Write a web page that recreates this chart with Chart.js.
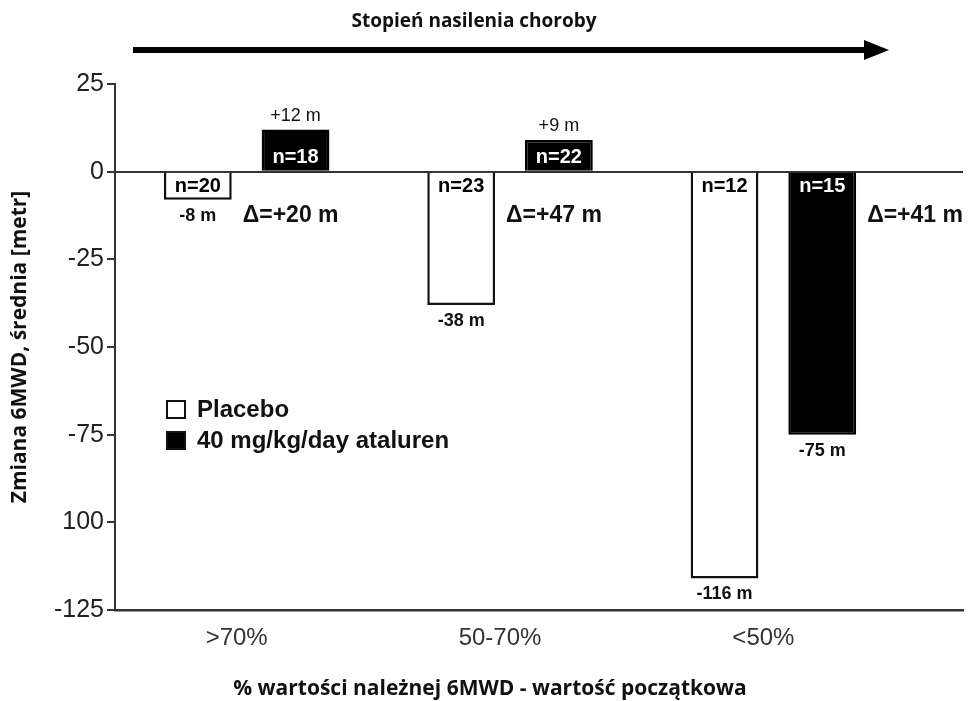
<!DOCTYPE html>
<html lang="pl">
<head>
<meta charset="utf-8">
<title>Zmiana 6MWD</title>
<script src="https://cdn.jsdelivr.net/npm/chart.js@4.4.1/dist/chart.umd.min.js"></script>
<style>
	html, body { margin: 0; padding: 0; background: #fff; }
</style>
</head>
<body>
<canvas id="myChart" width="970" height="701"></canvas>
<script>
// dane
const categories = ['>70%', '50-70%', '<50%'];
const placebo = [-8, -38, -116];
const ataluren = [12, 9, -75];
const placeboN = [20, 23, 12];
const atalurenN = [18, 22, 15];
const deltas = [20, 47, 41];
const yTickValues = [25, 0, -25, -50, -75, -100, -125];
const yTickLabels = ['25', '0', '-25', '-50', '-75', '100', '-125'];

const seriesNames = ['Placebo', '40 mg/kg/day ataluren'];
const topLabel = 'Stopień nasilenia choroby';
const xTitle = '% wartości należnej 6MWD - wartość początkowa';
const yTitle = 'Zmiana 6MWD, średnia [metr]';

(function () {

	const ctx = document.getElementById('myChart');
	const ARIAL = '"Liberation Sans", Arial, sans-serif';
	const CALIBRI = '"Open Sans", "Noto Sans", sans-serif';

	// etykiety n=, wartosci i delty
	const annotations = {
		id: 'annotations',
		afterDatasetsDraw(chart) {
			const c = chart.ctx;
			const y0 = chart.scales.y.getPixelForValue(0);
			c.save();
			c.textAlign = 'center';
			c.textBaseline = 'middle';
			[placeboN, atalurenN].forEach((counts, d) => {
				const meta = chart.getDatasetMeta(d);
				const values = chart.data.datasets[d].data;
				meta.data.forEach((bar, i) => {
					const v = values[i].y;
					c.fillStyle = d === 0 ? '#000' : '#fff';
					c.font = 'bold 20px ' + ARIAL;
					c.fillText('n=' + counts[i], bar.x, v < 0 ? y0 + 15 : y0 - 14);
					c.fillStyle = '#111';
					if (v > 0) {
						c.font = '18px ' + ARIAL;
						c.fillText('+' + v + ' m', bar.x, bar.y - 14);
					} else {
						c.font = 'bold 18px ' + ARIAL;
						c.fillText(v + ' m', bar.x, bar.y + 16);
					}
				});
			});

			// delta przy ostatnim slupku ponizej zera
			c.textAlign = 'left';
			c.font = 'bold 23px ' + ARIAL;
			c.fillStyle = '#111';
			deltas.forEach((dv, i) => {
				const d = ataluren[i] < 0 ? 1 : 0;
				const bar = chart.getDatasetMeta(d).data[i];
				c.fillText('\u0394=+' + dv + ' m', bar.x + bar.width / 2 + 11, y0 + 44);
			});
			c.restore();
		}
	};

	// legenda, strzalka i podpisy
	const extras = {
		id: 'extras',
		afterDraw(chart) {
			const c = chart.ctx;
			c.save();

			// legenda
			c.textAlign = 'left';
			c.textBaseline = 'middle';
			c.font = 'bold 24px ' + ARIAL;
			chart.data.datasets.forEach((ds, i) => {
				const y = 409 + i * 31;
				c.fillStyle = ds.backgroundColor;
				c.fillRect(167, y - 8, 18, 17);
				c.strokeStyle = '#111';
				c.lineWidth = 2;
				c.strokeRect(167, y - 8, 18, 17);
				c.fillStyle = '#111';
				c.fillText(ds.label, 197, y + 1);
			});

			// strzalka
			c.strokeStyle = '#000';
			c.lineWidth = 6;
			c.beginPath();
			c.moveTo(133, 50);
			c.lineTo(868, 50);
			c.stroke();
			c.fillStyle = '#000';
			c.beginPath();
			c.moveTo(864, 40);
			c.lineTo(889, 50);
			c.lineTo(864, 60);
			c.closePath();
			c.fill();

			c.textAlign = 'center';
			c.fillStyle = '#111';
			c.font = 'bold 19px ' + CALIBRI;
			c.fillText(topLabel, 474, 22);

			c.font = 'bold 21px ' + CALIBRI;
			c.fillText(xTitle, 490, 689);
			c.restore();
		}
	};

	new Chart(ctx, {
		type: 'bar',
		data: {
			datasets: [{
				label: seriesNames[0],
				data: placebo.map((v, i) => ({ x: i, y: v })),
				backgroundColor: '#ffffff',
				borderColor: '#111111',
				borderWidth: 2.5
			}, {
				label: seriesNames[1],
				data: ataluren.map((v, i) => ({ x: i, y: v })),
				backgroundColor: '#000000',
				borderColor: '#000000',
				borderWidth: 2.5
			}]
		},
		options: {
			responsive: false,
			animation: false,
			categoryPercentage: 0.742,
			barPercentage: 0.694,
			layout: { padding: { top: 84, right: 7, bottom: 0, left: 0 } },
			plugins: {
				legend: { display: false },
				tooltip: { enabled: false }
			},
			scales: {
				x: {
					type: 'linear',
					min: -0.5,
					max: 2.72,
					offset: false,
					grid: { display: false, drawTicks: false },
					border: { display: true, color: '#333', width: 2.5 },
					afterBuildTicks: function (scale) {
						scale.ticks = categories.map((c, i) => ({ value: i }));
					},
					ticks: {
						autoSkip: false,
						maxRotation: 0,
						padding: 14,
						labelOffset: -10,
						color: '#333',
						font: { family: ARIAL, size: 24 },
						callback: function (value) {
							return categories[value];
						}
					},
					afterFit: function (scale) { scale.height = 91; }
				},
				y: {
					min: -125,
					max: 25,
					z: 1,
					ticks: {
						stepSize: 25,
						padding: 3,
						color: '#222',
						font: { family: ARIAL, size: 25 },
						callback: function (value) {
							return yTickLabels[yTickValues.indexOf(value)];
						}
					},
					grid: {
						color: c => (c.tick && c.tick.value === 0) ? '#333' : 'rgba(0,0,0,0)',
						lineWidth: 2,
						tickColor: '#333',
						tickLength: 8,
						tickWidth: 2
					},
					border: { color: '#333', width: 2 },
					title: {
						display: true,
						text: yTitle,
						color: '#111',
						font: { family: CALIBRI, size: 21, weight: 'bold' },
						padding: { top: 7, bottom: 0 }
					},
					afterFit: function (scale) { scale.width = 115; }
				}
			}
		},
		plugins: [annotations, extras]
	});

})();
</script>
</body>
</html>
